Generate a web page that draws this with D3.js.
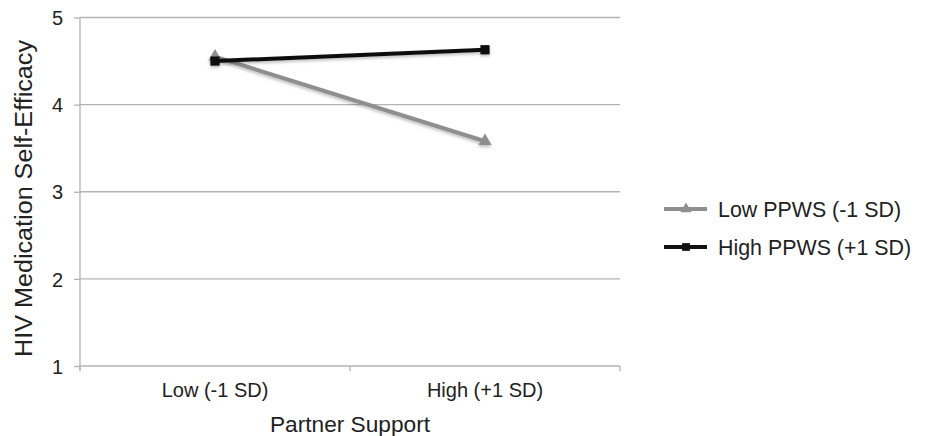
<!DOCTYPE html>
<html><head><meta charset="utf-8">
<script src="https://cdn.jsdelivr.net/npm/d3@7"></script>
<style>body{margin:0;background:#fff;} text{font-family:"Liberation Sans",Arial,sans-serif;}</style>
</head><body>
<svg id="c" width="933" height="436"></svg>
<script>
const categories = ["Low (-1 SD)", "High (+1 SD)"];
const seriesNames = ["Low PPWS (-1 SD)", "High PPWS (+1 SD)"];
const lowPPWS = [4.55, 3.58];
const highPPWS = [4.50, 4.63];
const yTicks = [1, 2, 3, 4, 5];

const svg = d3.select("#c");
const x0 = 80, x1 = 620, yTop = 17.5, yBot = 366;
const x = d3.scaleBand().domain(categories).range([x0, x1]);
const y = d3.scaleLinear().domain([1, 5]).range([yBot, yTop]);

const defs = svg.append("defs");
const f = defs.append("filter").attr("id","sh").attr("x","-20%").attr("y","-20%").attr("width","140%").attr("height","160%");
f.append("feDropShadow").attr("dx",0).attr("dy",2).attr("stdDeviation",1.5).attr("flood-color","#000").attr("flood-opacity",0.25);

// grid
svg.append("g").selectAll("line").data(yTicks.filter(d=>d>1)).join("line")
  .attr("x1", x0).attr("x2", x1).attr("y1", d=>y(d)).attr("y2", d=>y(d))
  .attr("stroke", "#b3b3b3").attr("stroke-width", 1.3);

// y axis
const ya = svg.append("g").attr("transform", `translate(${x0},0)`)
  .call(d3.axisLeft(y).tickValues(yTicks).tickSize(6).tickPadding(11).tickFormat(d3.format("d")));
ya.select(".domain").attr("stroke", "#b3b3b3").attr("stroke-width", 1.3).attr("d", `M0,${yTop}V${yBot+5}`);
ya.selectAll(".tick line").attr("stroke", "#b3b3b3").attr("stroke-width", 1.3);
ya.selectAll(".tick text").attr("font-size", 20).attr("fill", "#222").attr("dy", "0.36em").attr("font-family", "Liberation Sans, Arial, sans-serif");

// x axis
const xa = svg.append("g").attr("transform", `translate(0,${yBot})`)
  .call(d3.axisBottom(x).tickSize(0).tickPadding(17));
xa.select(".domain").attr("stroke", "#b3b3b3").attr("stroke-width", 1.3).attr("d", `M${x0},0H${x1}`);
xa.selectAll(".tick text").attr("font-size", 20).attr("fill", "#222").attr("font-family", "Liberation Sans, Arial, sans-serif");
const bounds = [x0, x0 + x.bandwidth(), x1];
xa.append("g").selectAll("line").data(bounds).join("line")
  .attr("x1", d=>d).attr("x2", d=>d).attr("y1", 0).attr("y2", 5)
  .attr("stroke", "#b3b3b3").attr("stroke-width", 1.3);

// titles
svg.append("text").attr("x", (x0+x1)/2).attr("y", 432).attr("text-anchor","middle")
  .attr("font-size", 22.7).attr("fill","#222").text("Partner Support");
svg.append("text").attr("transform", `translate(31.5,198.5) rotate(-90)`).attr("text-anchor","middle")
  .attr("font-size", 23).attr("textLength", 317).attr("lengthAdjust", "spacingAndGlyphs")
  .attr("fill","#222").text("HIV Medication Self-Efficacy");

const cx = c => x(c) + x.bandwidth()/2;
const line = d3.line().x((d,i)=>cx(categories[i])).y(d=>y(d));
const series = [
  {name: seriesNames[0], vals: lowPPWS, color: "#8f8f8f", marker: "tri"},
  {name: seriesNames[1], vals: highPPWS, color: "#111111", marker: "sq"}
];
const triSym = d3.symbol().type(d3.symbolTriangle).size(75);
const sqSym = d3.symbol().type(d3.symbolSquare).size(85);

series.forEach(s => {
  const g = svg.append("g").attr("filter","url(#sh)");
  g.append("path").attr("d", line(s.vals)).attr("fill","none").attr("stroke", s.color).attr("stroke-width", 4);
  g.selectAll("path.m").data(s.vals).join("path").attr("class","m")
    .attr("transform", (d,i)=>`translate(${cx(categories[i])},${y(d)})`)
    .attr("d", s.marker==="tri" ? triSym() : sqSym()).attr("fill", s.color);
});

// legend
const leg = svg.append("g");
series.forEach((s,i) => {
  const ly = 209 + i*38;
  const g = leg.append("g");
  g.append("line").attr("x1", 664).attr("x2", 707).attr("y1", ly).attr("y2", ly).attr("stroke", s.color).attr("stroke-width", 4);
  g.append("path").attr("transform", `translate(686,${ly})`).attr("d", s.marker==="tri" ? d3.symbol().type(d3.symbolTriangle).size(55)() : d3.symbol().type(d3.symbolSquare).size(60)()).attr("fill", s.color);
  g.append("text").attr("x", 718).attr("y", ly+7.5).attr("font-size", 21.4).attr("fill","#222").text(s.name);
});
</script>
</body></html>
